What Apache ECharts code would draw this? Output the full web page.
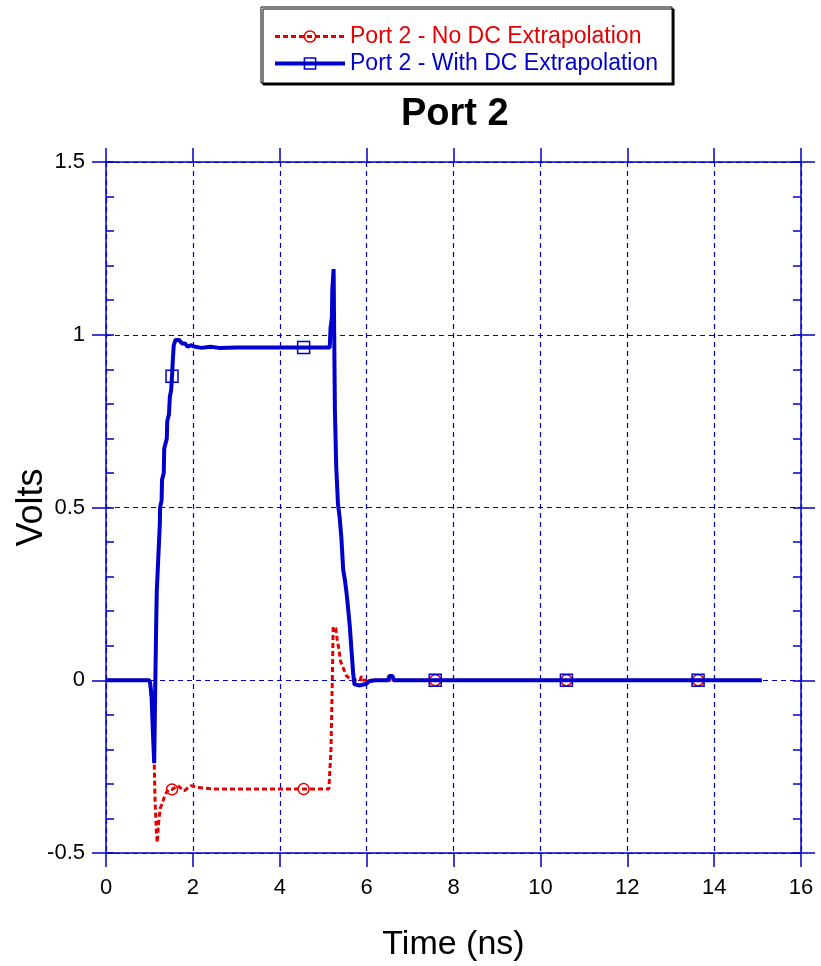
<!DOCTYPE html>
<html>
<head>
<meta charset="utf-8">
<title>Port 2</title>
<script src="https://cdn.jsdelivr.net/npm/echarts@6/dist/echarts.min.js"></script>
<style>
  html, body { margin: 0; padding: 0; background: #fff; }
  #chart { width: 821px; height: 966px; }
</style>
</head>
<body>
<div id="chart"></div>
<script>
// Port 2 response, no DC extrapolation (time in ns, volts)
const noDcTime = [0, 1.0, 1.05, 1.11, 1.13, 1.16, 1.18, 1.20, 1.22, 1.25, 1.30, 1.36, 1.45, 1.52, 1.65, 1.80, 1.95, 2.10, 2.50, 4.55, 5.13, 5.18, 5.21, 5.23, 5.29, 5.32, 5.36, 5.40, 5.46, 5.54, 5.61, 5.70, 5.85, 5.88, 5.92, 7.58, 10.6, 13.63, 15.1];
const noDcVolts = [0, 0, -0.05, -0.24, -0.35, -0.44, -0.47, -0.43, -0.40, -0.37, -0.355, -0.33, -0.315, -0.316, -0.305, -0.32, -0.305, -0.31, -0.315, -0.315, -0.315, -0.2, 0.0, 0.155, 0.15, 0.12, 0.09, 0.055, 0.036, 0.012, 0.005, 0.0, 0.0, 0.012, 0.0, 0, 0, 0, 0];

// Port 2 response, with DC extrapolation
const withDcTime = [0, 1.0, 1.02, 1.05, 1.08, 1.11, 1.13, 1.16, 1.17, 1.24, 1.245, 1.28, 1.29, 1.33, 1.34, 1.40, 1.41, 1.45, 1.47, 1.50, 1.52, 1.54, 1.56, 1.60, 1.68, 1.75, 1.82, 1.88, 1.95, 2.05, 2.20, 2.40, 2.60, 3.00, 4.55, 5.15, 5.17, 5.20, 5.21, 5.24, 5.25, 5.27, 5.30, 5.34, 5.38, 5.42, 5.46, 5.50, 5.54, 5.58, 5.61, 5.65, 5.69, 5.72, 5.85, 6.00, 6.05, 6.20, 6.50, 6.52, 6.60, 6.62, 7.58, 10.6, 13.63, 15.1];
const withDcVolts = [0, 0, -0.01, -0.05, -0.15, -0.24, -0.05, 0.20, 0.26, 0.455, 0.50, 0.52, 0.58, 0.60, 0.67, 0.70, 0.75, 0.77, 0.82, 0.84, 0.88, 0.93, 0.97, 0.985, 0.985, 0.975, 0.975, 0.965, 0.97, 0.965, 0.962, 0.965, 0.962, 0.963, 0.963, 0.963, 1.02, 1.05, 1.13, 1.19, 1.05, 0.78, 0.62, 0.51, 0.47, 0.41, 0.32, 0.29, 0.25, 0.20, 0.16, 0.09, 0.02, -0.012, -0.015, -0.01, -0.003, 0.0, 0.0, 0.012, 0.012, 0.0, 0, 0, 0, 0];

// Times at which the series symbols are drawn
const markerTimes = [1.52, 4.55, 7.58, 10.6, 13.63];

// Axis ranges and ticks
const xTicks = { min: 0, max: 16, step: 2 };
const yTicks = { min: -0.5, max: 1.5, step: 0.5 };

const seriesNames = ['Port 2 - No DC Extrapolation', 'Port 2 - With DC Extrapolation'];

const RED = '#e60000';
const BLUE = '#0000cc';
const FONT = '"Liberation Sans", Arial, sans-serif';

function buildData(times, volts) {
  return times.map((t, i) => {
    const item = { value: [t, volts[i]] };
    if (markerTimes.indexOf(t) < 0) item.symbol = 'none';
    return item;
  });
}

const chart = echarts.init(document.getElementById('chart'), null, { renderer: 'canvas' });

const gridLine = { show: true, lineStyle: { color: BLUE, width: 1.2, type: [5, 4] } };
const axisLine = { show: true, onZero: false, lineStyle: { color: BLUE, width: 1.5 } };
const hiddenLine = { show: false, onZero: false };
const outerTick = { show: true, inside: false, length: 14, lineStyle: { color: BLUE, width: 1.5 } };
const innerTick = { show: true, inside: true, length: 8, lineStyle: { color: BLUE, width: 1.5 } };
const innerMinor = { show: true, splitNumber: 5, length: 8, lineStyle: { color: BLUE, width: 1.5 } };

const redLine = { color: RED, width: 3, type: [5, 3] };
const blueLine = { color: BLUE, width: 4 };
const markerFill = 'rgba(255,255,255,0)';

const option = {
  backgroundColor: '#fff',
  animation: false,
  title: {
    text: 'Port 2',
    left: 401,
    top: 96,
    padding: 0,
    textStyle: { fontFamily: FONT, fontSize: 38, fontWeight: 'bold', color: '#000' }
  },
  legend: {
    orient: 'vertical',
    left: 261,
    top: 7,
    padding: [18, 14, 8, 12],
    itemGap: 4,
    itemWidth: 70,
    itemHeight: 14,
    borderColor: '#000',
    borderWidth: 1,
    backgroundColor: '#fff',
    shadowColor: '#000',
    shadowBlur: 0,
    shadowOffsetX: 2,
    shadowOffsetY: 2,
    textStyle: { fontFamily: FONT, fontSize: 23 },
    data: [
      { name: seriesNames[0], textStyle: { color: RED }, lineStyle: redLine,
        itemStyle: { color: markerFill, borderColor: RED, borderWidth: 1.5 } },
      { name: seriesNames[1], textStyle: { color: BLUE }, lineStyle: blueLine,
        itemStyle: { color: markerFill, borderColor: BLUE, borderWidth: 1.5 } }
    ]
  },
  grid: { left: 106, right: 20, top: 162, bottom: 113, outerBoundsMode: 'none', containLabel: false },
  xAxis: [
    {
      type: 'value', position: 'bottom',
      min: xTicks.min, max: xTicks.max, interval: xTicks.step,
      name: 'Time (ns)', nameLocation: 'middle', nameGap: 75, nameMoveOverlap: false,
      nameTextStyle: { fontFamily: FONT, fontSize: 34, color: '#000' },
      axisLine: axisLine,
      axisTick: outerTick,
      axisLabel: { fontFamily: FONT, fontSize: 22, color: '#000', margin: 24 },
      splitLine: gridLine
    },
    {
      type: 'value', position: 'top',
      min: xTicks.min, max: xTicks.max, interval: xTicks.step,
      axisLine: axisLine,
      axisTick: outerTick,
      axisLabel: { show: false },
      splitLine: { show: false }
    }
  ],
  yAxis: [
    {
      type: 'value', position: 'left',
      min: yTicks.min, max: yTicks.max, interval: yTicks.step,
      name: 'Volts', nameLocation: 'middle', nameGap: 56, nameMoveOverlap: false,
      nameTextStyle: { fontFamily: FONT, fontSize: 36, color: '#000' },
      axisLine: axisLine,
      axisTick: outerTick,
      axisLabel: {
        fontFamily: FONT, fontSize: 22, color: '#000', margin: 21,
        formatter: v => String(Math.round(v * 10) / 10)
      },
      splitLine: gridLine
    },
    {
      type: 'value', position: 'left',
      min: yTicks.min, max: yTicks.max, interval: yTicks.step,
      axisLine: hiddenLine,
      axisTick: innerTick,
      minorTick: innerMinor,
      axisLabel: { show: false },
      splitLine: { show: false }
    },
    {
      type: 'value', position: 'right',
      min: yTicks.min, max: yTicks.max, interval: yTicks.step,
      axisLine: axisLine,
      axisTick: outerTick,
      axisLabel: { show: false },
      splitLine: { show: false }
    },
    {
      type: 'value', position: 'right',
      min: yTicks.min, max: yTicks.max, interval: yTicks.step,
      axisLine: hiddenLine,
      axisTick: innerTick,
      minorTick: innerMinor,
      axisLabel: { show: false },
      splitLine: { show: false }
    }
  ],
  series: [
    {
      name: seriesNames[0],
      type: 'line',
      xAxisIndex: 0, yAxisIndex: 0,
      data: buildData(noDcTime, noDcVolts),
      symbol: 'circle',
      symbolSize: 11,
      showAllSymbol: true,
      lineStyle: redLine,
      itemStyle: { color: markerFill, borderColor: RED, borderWidth: 1.5 },
      emphasis: { disabled: true },
      z: 2
    },
    {
      name: seriesNames[1],
      type: 'line',
      xAxisIndex: 0, yAxisIndex: 0,
      data: buildData(withDcTime, withDcVolts),
      symbol: 'rect',
      symbolSize: 12,
      showAllSymbol: true,
      lineStyle: blueLine,
      itemStyle: { color: markerFill, borderColor: BLUE, borderWidth: 1.5 },
      emphasis: { disabled: true },
      z: 3
    }
  ]
};

chart.setOption(option);
</script>
</body>
</html>
